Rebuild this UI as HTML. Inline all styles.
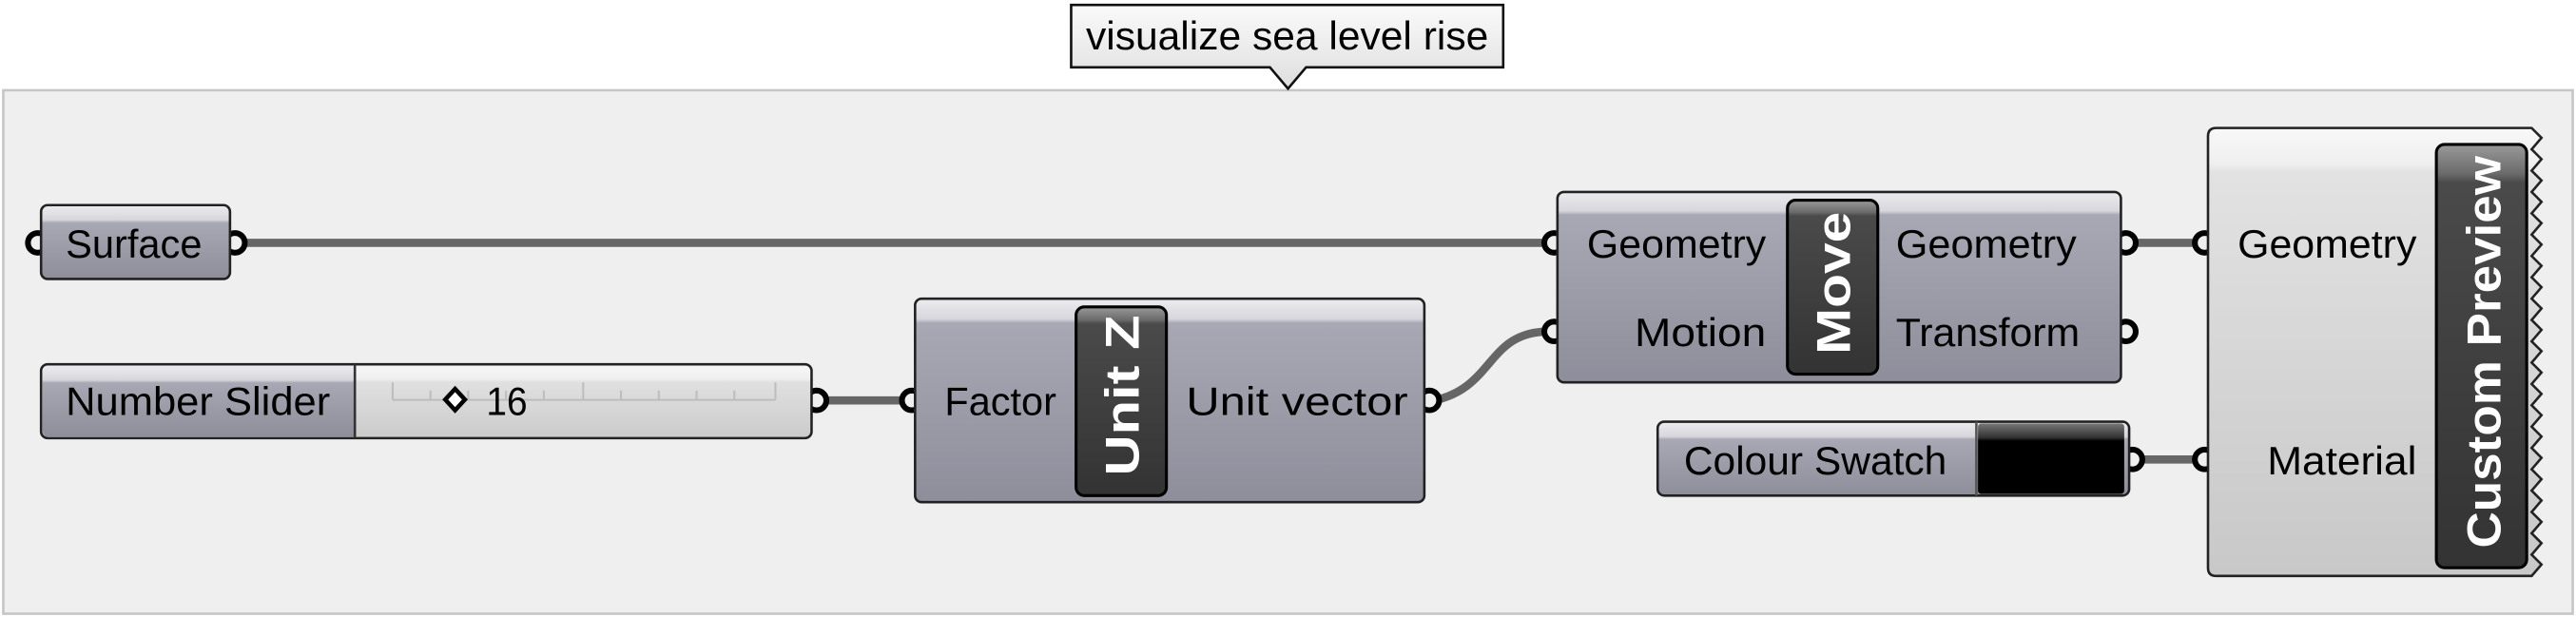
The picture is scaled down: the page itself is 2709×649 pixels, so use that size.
<!DOCTYPE html>
<html><head><meta charset="utf-8"><style>
html,body{margin:0;padding:0;background:#fff;}
svg{display:block;}
text{font-family:"Liberation Sans",sans-serif;}
</style></head><body>
<svg width="2709" height="649" viewBox="0 0 1568 376" preserveAspectRatio="none" xmlns="http://www.w3.org/2000/svg">
<defs>
<linearGradient id="body" x1="0" y1="0" x2="0" y2="1">
<stop offset="0" stop-color="#ececf0"/><stop offset="0.1" stop-color="#d6d6dc"/><stop offset="0.12" stop-color="#a8a8b5"/><stop offset="1" stop-color="#8e8e9b"/>
</linearGradient>
<linearGradient id="bodyS" x1="0" y1="0" x2="0" y2="1">
<stop offset="0" stop-color="#ececf0"/><stop offset="0.2" stop-color="#d6d6dc"/><stop offset="0.24" stop-color="#a8a8b5"/><stop offset="1" stop-color="#8e8e9b"/>
</linearGradient>
<linearGradient id="light" x1="0" y1="0" x2="0" y2="1">
<stop offset="0" stop-color="#f8f8f8"/><stop offset="0.08" stop-color="#efefef"/><stop offset="0.1" stop-color="#e2e2e2"/><stop offset="1" stop-color="#c8c8c8"/>
</linearGradient>
<linearGradient id="lightS" x1="0" y1="0" x2="0" y2="1">
<stop offset="0" stop-color="#f8f8f8"/><stop offset="0.2" stop-color="#efefef"/><stop offset="0.24" stop-color="#e0e0e0"/><stop offset="1" stop-color="#cbcbcb"/>
</linearGradient>
<linearGradient id="tab" x1="0" y1="0" x2="0" y2="1">
<stop offset="0" stop-color="#9a9a9a"/><stop offset="0.07" stop-color="#6a6a6a"/><stop offset="0.09" stop-color="#4a4a4a"/><stop offset="1" stop-color="#333"/>
</linearGradient>
<linearGradient id="swatch" x1="0" y1="0" x2="0" y2="1">
<stop offset="0" stop-color="#777"/><stop offset="0.2" stop-color="#333"/><stop offset="0.25" stop-color="#000"/><stop offset="1" stop-color="#000"/>
</linearGradient>
<linearGradient id="tip" x1="0" y1="0" x2="0" y2="1">
<stop offset="0" stop-color="#fafafa"/><stop offset="1" stop-color="#dedede"/>
</linearGradient>
</defs>

<rect x="2" y="55" width="1564" height="319" fill="#efefef" stroke="#c6c6c6" stroke-width="1.5"/>

<path d="M652,3 H915 V41 H795 L784,54 L773,41 H652 Z" fill="url(#tip)" stroke="#111" stroke-width="1.5"/>
<text x="661" y="30" font-size="24" textLength="245" lengthAdjust="spacingAndGlyphs" fill="#000">visualize sea level rise</text>

<g stroke="#666" stroke-width="5" fill="none">
<line x1="145" y1="148" x2="943" y2="148"/>
<line x1="500" y1="244" x2="552" y2="244"/>
<path d="M873,244 C910,236 905,202 943,202"/>
<line x1="1296" y1="148" x2="1339" y2="148"/>
<line x1="1296" y1="280" x2="1339" y2="280"/>
</g>

<g fill="#efefef" stroke="#000" stroke-width="3.5">
<circle cx="23" cy="148" r="6"/><circle cx="143" cy="148" r="6"/>
<circle cx="497" cy="244" r="6"/>
<circle cx="555" cy="244" r="6"/><circle cx="870" cy="244" r="6"/>
<circle cx="946" cy="148" r="6"/><circle cx="946" cy="202" r="6"/>
<circle cx="1294" cy="148" r="6"/><circle cx="1294" cy="202" r="6"/>
<circle cx="1298" cy="280" r="6"/>
<circle cx="1342" cy="148" r="6"/><circle cx="1342" cy="280" r="6"/>
</g>

<rect x="25" y="125" width="115" height="45" rx="4" fill="url(#bodyS)" stroke="#222" stroke-width="1.5"/>
<text x="40" y="157" font-size="24" textLength="83" lengthAdjust="spacingAndGlyphs">Surface</text>

<rect x="25" y="222" width="469" height="45" rx="4" fill="url(#lightS)" stroke="#222" stroke-width="1.5"/>
<path d="M29,223 H216 V266 H29 Q26,266 26,262 V227 Q26,223 29,223 Z" fill="url(#bodyS)"/>
<line x1="216" y1="222" x2="216" y2="267" stroke="#333" stroke-width="1.5"/>
<text x="40" y="253" font-size="24" textLength="161" lengthAdjust="spacingAndGlyphs">Number Slider</text>
<g stroke="#bdbdbd" stroke-width="1.2">
<line x1="239" y1="243.7" x2="472" y2="243.7"/>
<line x1="239" y1="233" x2="239" y2="243.7"/>
<line x1="262" y1="238" x2="262" y2="243.7"/><line x1="285" y1="238" x2="285" y2="243.7"/>
<line x1="308" y1="238" x2="308" y2="243.7"/><line x1="331" y1="238" x2="331" y2="243.7"/>
<line x1="355" y1="233" x2="355" y2="243.7"/>
<line x1="378" y1="238" x2="378" y2="243.7"/><line x1="401" y1="238" x2="401" y2="243.7"/>
<line x1="424" y1="238" x2="424" y2="243.7"/><line x1="447" y1="238" x2="447" y2="243.7"/>
<line x1="472" y1="233" x2="472" y2="243.7"/>
</g>
<path d="M277,237 L283,243.5 L277,250 L271,243.5 Z" fill="#fff" stroke="#000" stroke-width="2.6"/>
<text x="296" y="253" font-size="24" textLength="25" lengthAdjust="spacingAndGlyphs">16</text>

<rect x="557" y="182" width="310" height="124" rx="4" fill="url(#body)" stroke="#222" stroke-width="1.5"/>
<rect x="655" y="187" width="55" height="115" rx="5" fill="url(#tab)" stroke="#000" stroke-width="1.8"/>
<text transform="translate(693,290) rotate(-90)" font-size="29" font-weight="bold" fill="#fff" textLength="98" lengthAdjust="spacingAndGlyphs">Unit Z</text>
<text x="575" y="253" font-size="24" textLength="68" lengthAdjust="spacingAndGlyphs">Factor</text>
<text x="722" y="253" font-size="24" textLength="135" lengthAdjust="spacingAndGlyphs">Unit vector</text>

<rect x="948" y="117" width="343" height="116" rx="4" fill="url(#body)" stroke="#222" stroke-width="1.5"/>
<rect x="1088" y="122" width="55" height="106" rx="5" fill="url(#tab)" stroke="#000" stroke-width="1.8"/>
<text transform="translate(1126,216) rotate(-90)" font-size="29" font-weight="bold" fill="#fff" textLength="87" lengthAdjust="spacingAndGlyphs">Move</text>
<text x="966" y="157" font-size="24" textLength="109" lengthAdjust="spacingAndGlyphs">Geometry</text>
<text x="995" y="211" font-size="24" textLength="80" lengthAdjust="spacingAndGlyphs">Motion</text>
<text x="1154" y="157" font-size="24" textLength="110" lengthAdjust="spacingAndGlyphs">Geometry</text>
<text x="1154" y="211" font-size="24" textLength="112" lengthAdjust="spacingAndGlyphs">Transform</text>

<rect x="1009" y="257" width="287" height="45" rx="4" fill="url(#bodyS)" stroke="#222" stroke-width="1.5"/>
<rect x="1204" y="258" width="89" height="43" rx="2" fill="url(#swatch)"/>
<line x1="1203" y1="257" x2="1203" y2="302" stroke="#555" stroke-width="1.5"/>
<text x="1025" y="289" font-size="24" textLength="160" lengthAdjust="spacingAndGlyphs">Colour Swatch</text>

<path d="M1349,78 H1541 L1547,84 L1541,91 L1547,97 L1541,104 L1547,110 L1541,117 L1547,123 L1541,130 L1547,136 L1541,143 L1547,149 L1541,156 L1547,162 L1541,169 L1547,175 L1541,182 L1547,188 L1541,195 L1547,201 L1541,208 L1547,214 L1541,221 L1547,227 L1541,234 L1547,240 L1541,247 L1547,253 L1541,260 L1547,266 L1541,273 L1547,279 L1541,286 L1547,292 L1541,299 L1547,305 L1541,312 L1547,318 L1541,325 L1547,331 L1541,338 L1547,344 L1541,351 H1349 Q1344,351 1344,346 V83 Q1344,78 1349,78 Z" fill="url(#light)" stroke="#222" stroke-width="1.5"/>
<rect x="1483" y="88" width="55" height="258" rx="5" fill="url(#tab)" stroke="#000" stroke-width="1.8"/>
<text transform="translate(1522,334) rotate(-90)" font-size="29" font-weight="bold" fill="#fff" textLength="239" lengthAdjust="spacingAndGlyphs">Custom Preview</text>
<text x="1362" y="157" font-size="24" textLength="109" lengthAdjust="spacingAndGlyphs">Geometry</text>
<text x="1380" y="289" font-size="24" textLength="91" lengthAdjust="spacingAndGlyphs">Material</text>
</svg>
</body></html>
